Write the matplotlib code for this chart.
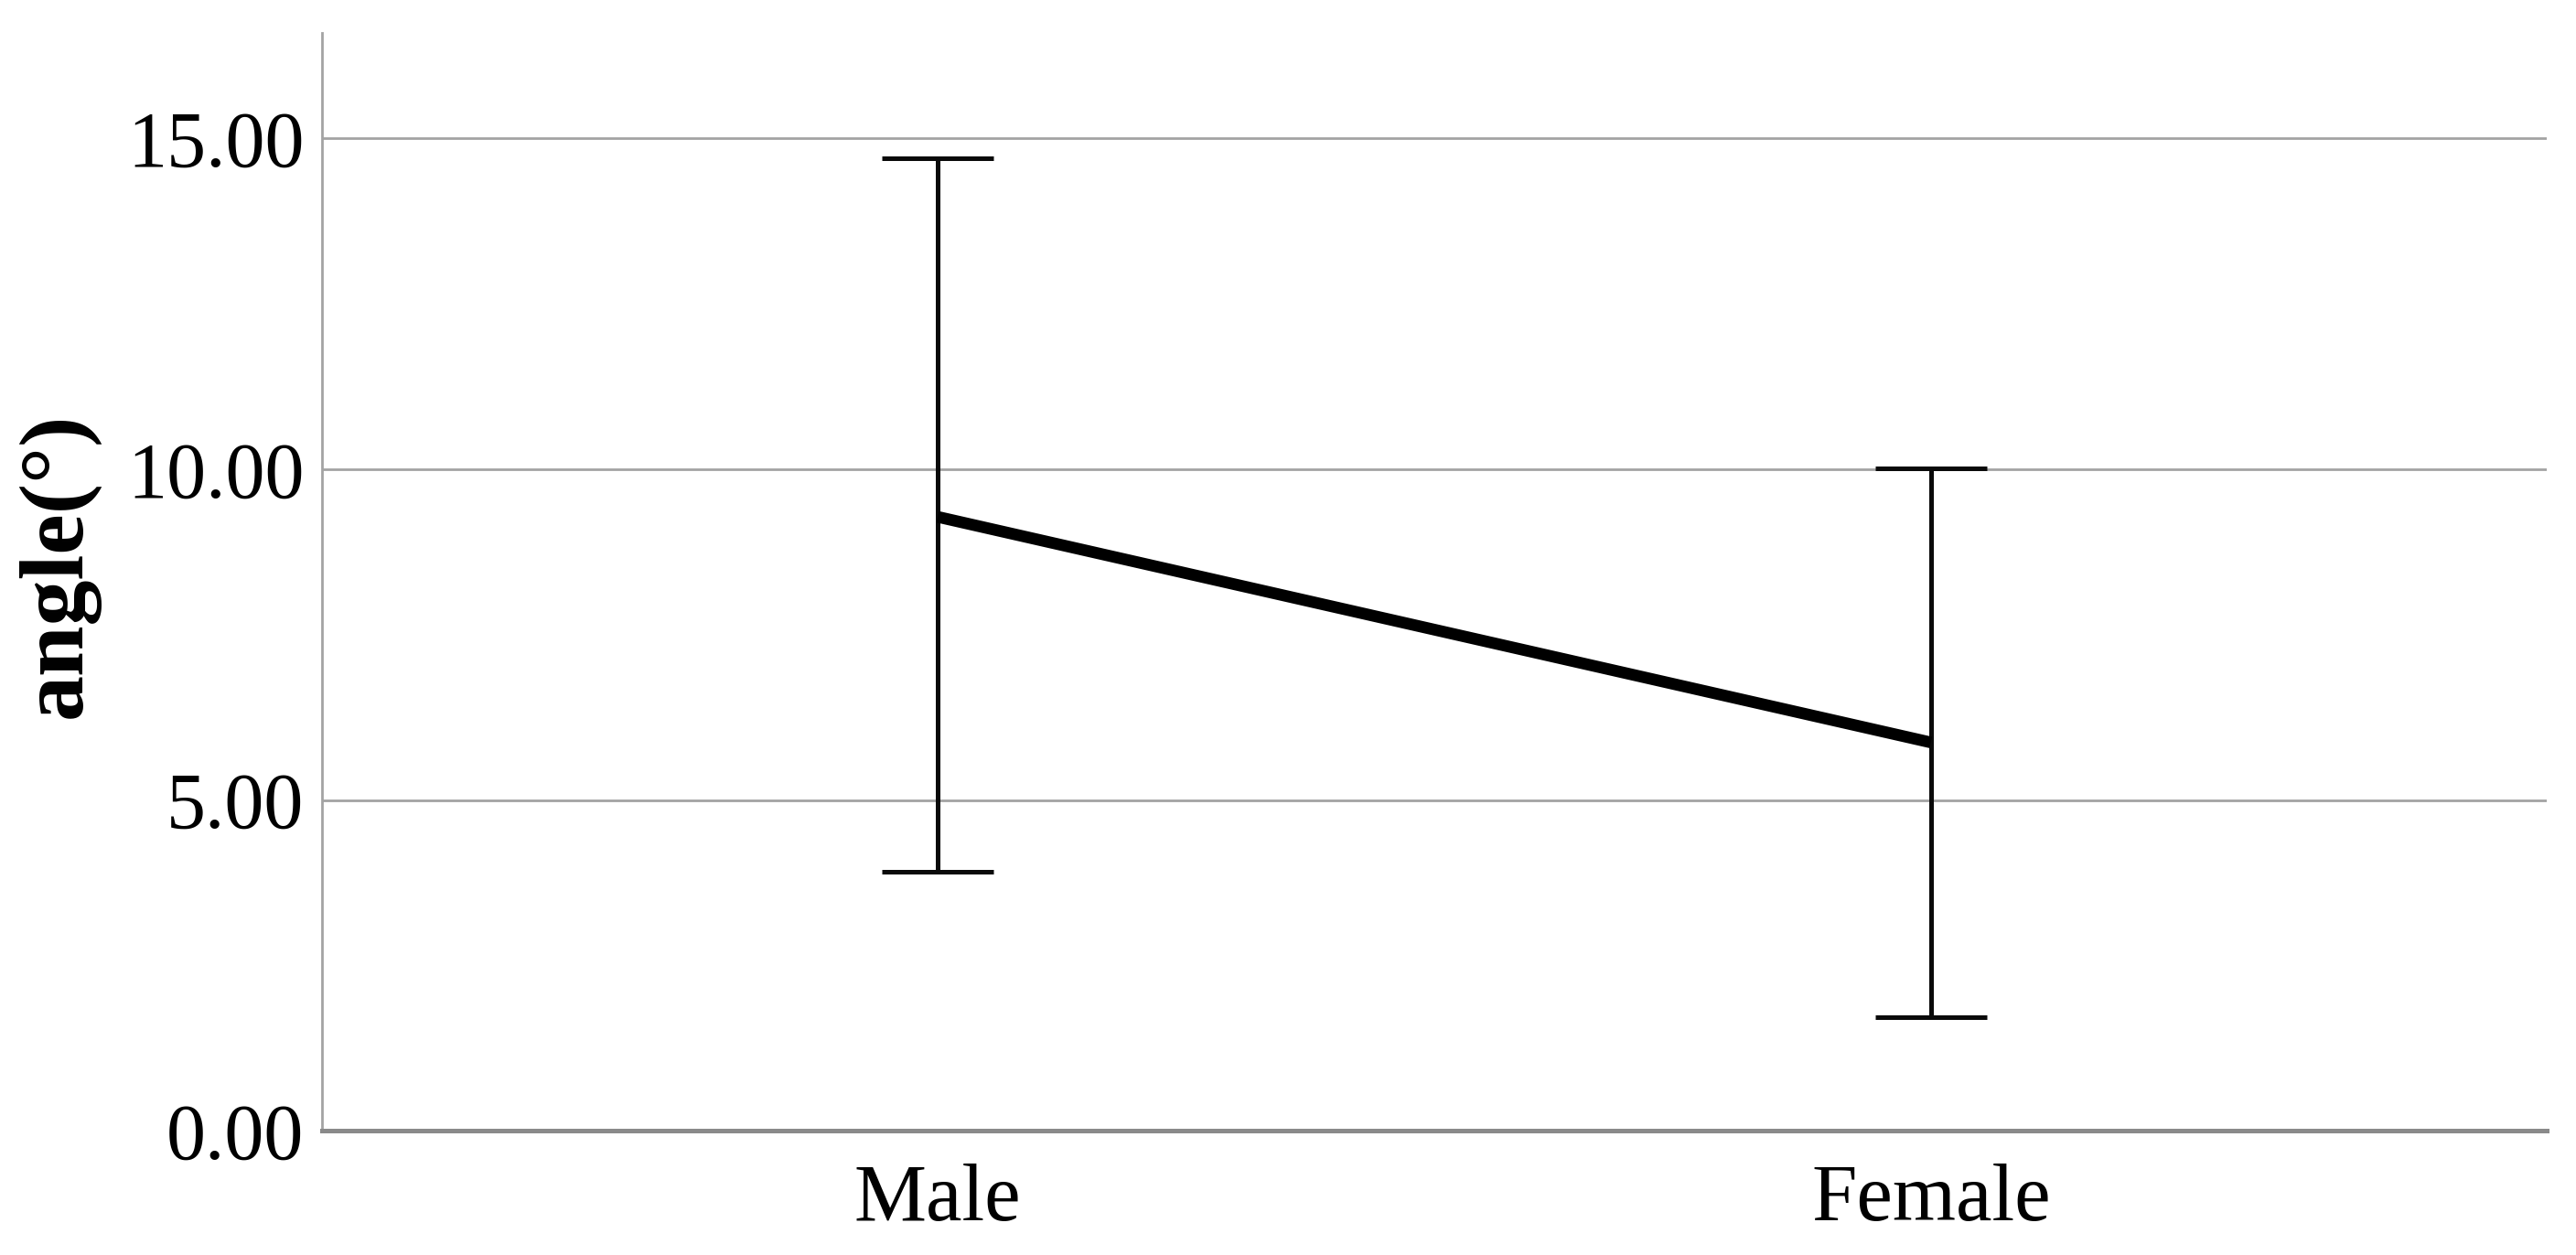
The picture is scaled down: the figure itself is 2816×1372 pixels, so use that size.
"""Mean angle by sex with error bars."""

import matplotlib

matplotlib.use('Agg')
import matplotlib.pyplot as plt

CATEGORIES = ['Male', 'Female']
MEANS = [9.28, 5.87]
UPPER = [14.70, 10.02]
LOWER = [3.91, 1.72]
Y_TICKS = [0.0, 5.0, 10.0, 15.0]

GRID_COLOR = '#a3a3a3'
LINE_COLOR = '#000000'

plt.rcParams['font.family'] = ['Liberation Serif', 'DejaVu Serif']

fig = plt.figure(figsize=(14.08, 6.86), dpi=200)
ax = fig.add_axes([0.125, 0.099, 0.8636, 0.875])

xs = list(range(len(CATEGORIES)))
yerr = [
    [m - lo for m, lo in zip(MEANS, LOWER)],
    [up - m for m, up in zip(MEANS, UPPER)],
]

ax.plot(xs, MEANS, color=LINE_COLOR, linewidth=4.6, solid_capstyle='butt', zorder=3)
ax.errorbar(
    xs,
    MEANS,
    yerr=yerr,
    fmt='none',
    ecolor='#0a0a0a',
    elinewidth=1.8,
    capsize=22,
    capthick=1.8,
    zorder=2,
)

ax.set_xlim(-0.62, 1.62)
ax.set_ylim(0, 16.6)
ax.set_yticks(Y_TICKS)
ax.set_yticklabels([f'{v:.2f}' for v in Y_TICKS])
ax.set_xticks(xs)
ax.set_xticklabels(CATEGORIES)

ax.yaxis.grid(True, color=GRID_COLOR, linewidth=1.0, zorder=0)
ax.set_axisbelow(True)

for side in ('top', 'right'):
    ax.spines[side].set_visible(False)
ax.spines['left'].set_color(GRID_COLOR)
ax.spines['left'].set_linewidth(1.0)
ax.spines['bottom'].set_color('#8a8a8a')
ax.spines['bottom'].set_linewidth(1.8)

ax.tick_params(axis='y', length=0, labelsize=31, colors='#000000', pad=7)
ax.tick_params(axis='x', length=0, labelsize=32, colors='#000000', pad=13)

ax.set_ylabel('angle(°)', fontsize=36, fontweight='bold', labelpad=11, color='#000000', y=0.515)

fig.savefig('out.png', dpi=200, facecolor='white')
